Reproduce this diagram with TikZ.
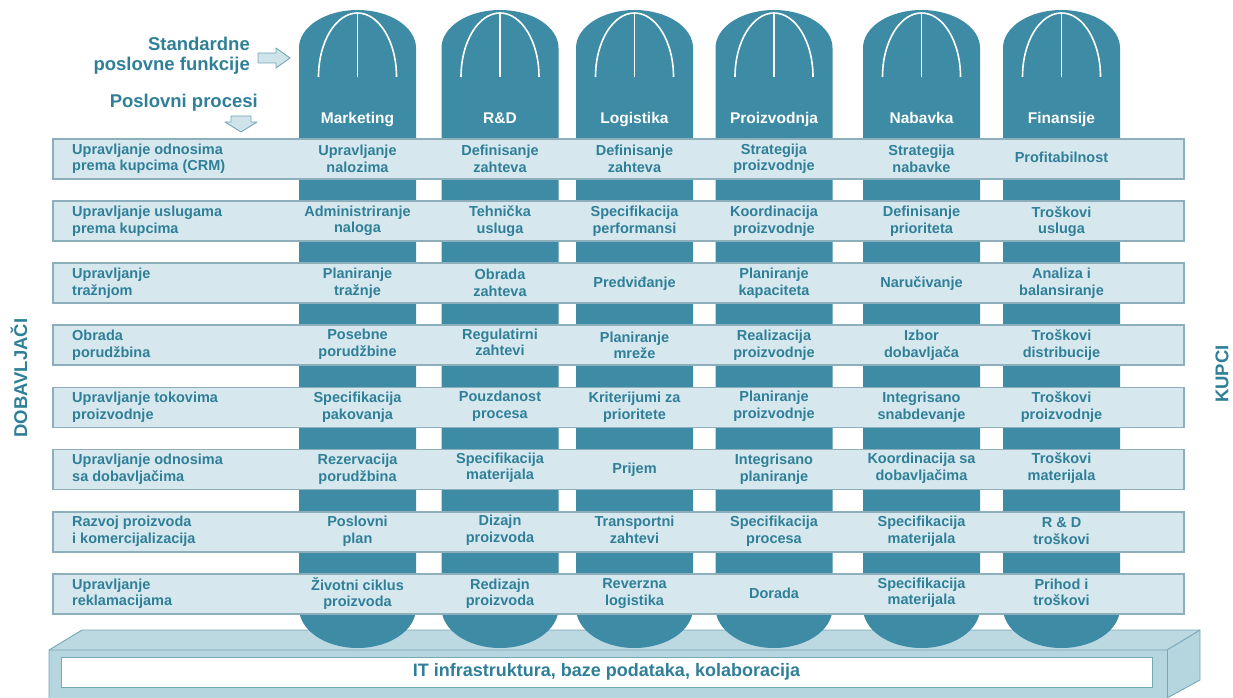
\documentclass[tikz,border=0pt]{standalone}
\usepackage{fontspec}
\setmainfont{Liberation Sans}
\definecolor{pillar}{HTML}{3D8BA5}
\definecolor{bandfill}{HTML}{D6E8EE}
\definecolor{bandline}{HTML}{8CAFBB}
\definecolor{txt}{HTML}{2F7F98}
\definecolor{slabtop}{HTML}{BCD9E2}
\definecolor{slabfront}{HTML}{B5D5DF}
\definecolor{slabline}{HTML}{74A7B7}
\definecolor{arrowfill}{HTML}{CFE3EA}
% one pillar (business function) at centre x
\newcommand{\pCol}[1]{%
  \fill[pillar] (#1-58.5,48) arc[start angle=180,end angle=0,x radius=58.5pt,y radius=38pt]
    -- (#1+58.5,608) arc[start angle=0,end angle=-180,x radius=58.5pt,y radius=40pt] -- cycle;
  \draw[white,line width=1.6pt] (#1-39,77) arc[start angle=180,end angle=0,x radius=39pt,y radius=64pt];
  \draw[white,line width=1.6pt] (#1,13) -- (#1,77);}
\tikzset{
  cell/.style={inner sep=0pt, align=center, text=txt, font=\bfseries\fontsize{14.5}{16.5}\selectfont},
  rowlbl/.style={cell, anchor=west, align=left},
  hdr/.style={anchor=base, inner sep=0pt, text=white, font=\bfseries\fontsize{15.5}{18}\selectfont},
  big/.style={inner sep=0pt, text=txt, font=\bfseries\fontsize{18.5}{20}\selectfont},
  band/.style={draw=bandline, fill=bandfill, line width=1.2pt},
  fatarrow/.style={draw=slabline, fill=arrowfill, line width=0.9pt, line join=round}
}
\begin{document}
\begin{tikzpicture}[x=1pt,y=-1pt]
\useasboundingbox (0,0) rectangle (1233,698);
% IT platform
\fill[slabtop] (82,630) -- (1200,630) -- (1167,650) -- (49,650) -- cycle;
\fill[slabfront] (49,650) rectangle (1167,698);
\fill[slabfront] (1167,650) -- (1200,630) -- (1200,680) -- (1167,698) -- cycle;
\draw[slabline,line width=0.9pt] (49,698) -- (49,650) -- (82,630) -- (1200,630) -- (1200,680) -- (1167,698);
\draw[slabline,line width=0.9pt] (49,650) -- (1167,650) -- (1200,630);
\draw[slabline,line width=0.9pt] (1167,650) -- (1167,698);
\node[draw=slabline, fill=white, line width=0.9pt, minimum width=1091pt, minimum height=30pt, inner sep=0pt,
      text=txt, font=\bfseries\fontsize{18}{20}\selectfont] (it) at (606.5,672) {IT infrastruktura, baze podataka, kolaboracija};
% pillars
\pCol{357.5}
\pCol{500}
\pCol{634.5}
\pCol{774}
\pCol{921.5}
\pCol{1061.5}
\node[hdr] (h1) at (357.5,123.5) {Marketing};
\node[hdr] (h2) at (500,123.5) {R\&D};
\node[hdr] (h3) at (634.5,123.5) {Logistika};
\node[hdr] (h4) at (774,123.5) {Proizvodnja};
\node[hdr] (h5) at (921.5,123.5) {Nabavka};
\node[hdr] (h6) at (1061.5,123.5) {Finansije};
% process bands
\draw[band] (53,139) rectangle (1184,179);
\draw[band] (53,201) rectangle (1184,241);
\draw[band] (53,263) rectangle (1184,303);
\draw[band] (53,325) rectangle (1184,365);
\draw[band] (53,387.5) rectangle (1184,427.5);
\draw[band] (53,449.5) rectangle (1184,489.5);
\draw[band] (53,512) rectangle (1184,552);
\draw[band] (53,574) rectangle (1184,614);
% headings
\node[big, anchor=east, align=right] (fun) at (250,56) {Standardne\\poslovne funkcije};
\node[big, anchor=east] (proc) at (258,103) {Poslovni procesi};
\draw[fatarrow] (258,53) -- (276,53) -- (276,48) -- (290,58) -- (276,68) -- (276,63) -- (258,63) -- cycle;
\draw[fatarrow] (231,116) -- (251,116) -- (251,122) -- (257,122) -- (241,132) -- (225,122) -- (231,122) -- cycle;
\node[big, rotate=90] (dob) at (19,378) {DOBAVLJAČI};
\node[big, rotate=90] (kup) at (1222,374) {KUPCI};
% row 1
\node[rowlbl] (r1) at (72,159) {Upravljanje odnosima\\prema kupcima (CRM)};
\node[cell] (c11) at (357.5,159) {Upravljanje\\nalozima};
\node[cell] (c12) at (500,159) {Definisanje\\zahteva};
\node[cell] (c13) at (634.5,159) {Definisanje\\zahteva};
\node[cell] (c14) at (774,159) {Strategija\\proizvodnje};
\node[cell] (c15) at (921.5,159) {Strategija\\nabavke};
\node[cell] (c16) at (1061.5,157.5) {Profitabilnost};
% row 2
\node[rowlbl] (r2) at (72,221) {Upravljanje uslugama\\prema kupcima};
\node[cell] (c21) at (357.5,221) {Administriranje\\naloga};
\node[cell] (c22) at (500,221) {Tehnička\\usluga};
\node[cell] (c23) at (634.5,221) {Specifikacija\\performansi};
\node[cell] (c24) at (774,221) {Koordinacija\\proizvodnje};
\node[cell] (c25) at (921.5,221) {Definisanje\\prioriteta};
\node[cell] (c26) at (1061.5,221.5) {Troškovi\\usluga};
% row 3
\node[rowlbl] (r3) at (72,283) {Upravljanje\\tražnjom};
\node[cell] (c31) at (357.5,283) {Planiranje\\tražnje};
\node[cell] (c32) at (500,283) {Obrada\\zahteva};
\node[cell] (c33) at (634.5,283.5) {Predviđanje};
\node[cell] (c34) at (774,283) {Planiranje\\kapaciteta};
\node[cell] (c35) at (921.5,283.5) {Naručivanje};
\node[cell] (c36) at (1061.5,283) {Analiza i\\balansiranje};
% row 4
\node[rowlbl] (r4) at (72,345) {Obrada\\porudžbina};
\node[cell] (c41) at (357.5,344) {Posebne\\porudžbine};
\node[cell] (c42) at (500,342.5) {Regulatirni\\zahtevi};
\node[cell] (c43) at (634.5,345.5) {Planiranje\\mreže};
\node[cell] (c44) at (774,345) {Realizacija\\proizvodnje};
\node[cell] (c45) at (921.5,345) {Izbor\\dobavljača};
\node[cell] (c46) at (1061.5,345) {Troškovi\\distribucije};
% row 5
\node[rowlbl] (r5) at (72,407) {Upravljanje tokovima\\proizvodnje};
\node[cell] (c51) at (357.5,407) {Specifikacija\\pakovanja};
\node[cell] (c52) at (500,406) {Pouzdanost\\procesa};
\node[cell] (c53) at (634.5,407) {Kriterijumi za\\prioritete};
\node[cell] (c54) at (774,406) {Planiranje\\proizvodnje};
\node[cell] (c55) at (921.5,407) {Integrisano\\snabdevanje};
\node[cell] (c56) at (1061.5,407) {Troškovi\\proizvodnje};
% row 6
\node[rowlbl] (r6) at (72,469) {Upravljanje odnosima\\sa dobavljačima};
\node[cell] (c61) at (357.5,469) {Rezervacija\\porudžbina};
\node[cell] (c62) at (500,467.5) {Specifikacija\\materijala};
\node[cell] (c63) at (634.5,469.5) {Prijem};
\node[cell] (c64) at (774,469) {Integrisano\\planiranje};
\node[cell] (c65) at (921.5,468) {Koordinacija sa\\dobavljačima};
\node[cell] (c66) at (1061.5,468) {Troškovi\\materijala};
% row 7
\node[rowlbl] (r7) at (72,531) {Razvoj proizvoda\\i komercijalizacija};
\node[cell] (c71) at (357.5,531) {Poslovni\\plan};
\node[cell] (c72) at (500,530) {Dizajn\\proizvoda};
\node[cell] (c73) at (634.5,530) {Transportni\\zahtevi};
\node[cell] (c74) at (774,531) {Specifikacija\\procesa};
\node[cell] (c75) at (921.5,531) {Specifikacija\\materijala};
\node[cell] (c76) at (1061.5,531) {R \& D\\troškovi};
% row 8
\node[rowlbl] (r8) at (72,593.5) {Upravljanje\\reklamacijama};
\node[cell] (c81) at (357.5,593.5) {Životni ciklus\\proizvoda};
\node[cell] (c82) at (500,593.5) {Redizajn\\proizvoda};
\node[cell] (c83) at (634.5,593.5) {Reverzna\\logistika};
\node[cell] (c84) at (774,593.5) {Dorada};
\node[cell] (c85) at (921.5,592.5) {Specifikacija\\materijala};
\node[cell] (c86) at (1061.5,592.5) {Prihod i\\troškovi};
\end{tikzpicture}
\end{document}
